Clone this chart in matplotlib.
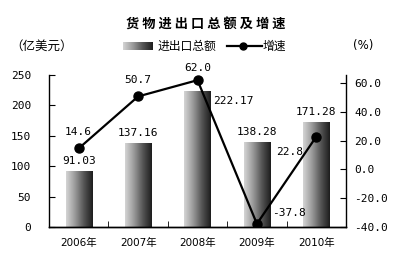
import numpy as np
import matplotlib
matplotlib.use("Agg")
import matplotlib.pyplot as plt
from matplotlib.colors import LinearSegmentedColormap

plt.rcParams['font.family'] = ['DejaVu Sans Mono', 'Noto Sans CJK SC']

years = ["2006年", "2007年", "2008年", "2009年", "2010年"]
totals = [91.03, 137.16, 222.17, 138.28, 171.28]
growth = [14.6, 50.7, 62.0, -37.8, 22.8]

W, H = 408, 265
fig = plt.figure(figsize=(W / 100, H / 100), dpi=100)
# axes box in pixels: left 49, right 346, top 75, bottom 227
ax = fig.add_axes([49 / W, 1 - 227 / H, (346 - 49) / W, (227 - 75) / H])
ax2 = ax.twinx()

x = np.arange(len(years))
bw = 0.44
cmap = LinearSegmentedColormap.from_list("g", ["#d4d4d4", "#9a9a9a", "#555555", "#1e1e1e"])
grad = np.linspace(0, 1, 64).reshape(1, -1)
for xi, v in zip(x, totals):
    ax.imshow(grad, cmap=cmap, aspect="auto", extent=(xi - bw / 2, xi + bw / 2, 0, v),
              zorder=2)

ax.set_xlim(-0.5, 4.5)
ax.set_ylim(0, 250)
ax.set_yticks(range(0, 251, 50))
ax.set_xticks(x)
ax.set_xticklabels(years, fontsize=7.5, family=['DejaVu Sans', 'Noto Sans CJK SC'])
ax.set_xticks(np.arange(0.5, 4.5, 1), minor=True)
ax.tick_params(axis="x", which="major", length=0, pad=8)
ax.tick_params(axis="x", which="minor", length=4, direction="in")
ax.tick_params(axis="y", direction="in", length=4, labelsize=8, pad=13)

ax2.plot(x, growth, color="black", lw=1.6, marker="o", markersize=6.5, zorder=5)
ax2.set_ylim(-40, 65.6)
ax2.set_yticks(range(-40, 61, 20))
ax2.set_yticklabels([f"{v:.1f}" for v in range(-40, 61, 20)])
ax2.tick_params(axis="y", direction="in", length=4, labelsize=8, pad=6)

for a in (ax, ax2):
    a.spines["top"].set_visible(False)
    a.spines["left"].set_linewidth(1.0)
    a.spines["right"].set_linewidth(1.0)
    a.spines["bottom"].set_linewidth(1.0)
ax2.spines["left"].set_visible(False)
ax.spines["right"].set_visible(False)

# bar value labels
fs = 8
bar_off = [(0, 4), (0, 4), (8, -10), (0, 4), (0, 4)]
for xi, v, (dx, dy) in zip(x, totals, bar_off):
    ha = "left" if dx > 0 else "center"
    ax.annotate(f"{v:.2f}", (xi + (bw / 2 if dx > 0 else 0), v), xytext=(dx - 6 if dx > 0 else 0, dy),
                textcoords="offset points", ha=ha, va="bottom", fontsize=fs, zorder=6)

# growth labels
g_off = [(0, 12), (0, 12), (0, 9), (23, 8), (-19, -11)]
for xi, v, (dx, dy) in zip(x, growth, g_off):
    ax2.annotate(f"{v:.1f}", (xi, v), xytext=(dx, dy), textcoords="offset points",
                 ha="center", va="center", fontsize=fs, zorder=6)

# title and header row
fig.text(206 / W, 1 - 25 / H, "货 物 进 出 口 总 额 及 增 速", ha="center", va="center",
         fontsize=9.5, fontweight="bold", family=['Noto Sans CJK SC'])
fig.text(42 / W, 1 - 46 / H, "（亿美元）", ha="center", va="center", fontsize=9,
         family=['Noto Sans CJK SC'])
fig.text(353 / W, 1 - 46 / H, "(%)", ha="left", va="center", fontsize=8.5,
         family=['DejaVu Sans'])

lax = fig.add_axes([123 / W, 1 - 50 / H, 30 / W, 8 / H])
lax.imshow(grad, cmap=cmap, aspect="auto", extent=(0, 1, 0, 1))
lax.axis("off")
fig.text(158 / W, 1 - 46 / H, "进出口总额", ha="left", va="center", fontsize=8.5,
         family=['Noto Sans CJK SC'])
fig.add_artist(plt.Line2D([227 / W, 262 / W], [1 - 46 / H, 1 - 46 / H], color="black", lw=1.6,
                          transform=fig.transFigure))
fig.add_artist(plt.Line2D([243 / W], [1 - 46 / H], marker="o", markersize=5, color="black",
                          transform=fig.transFigure))
fig.text(263 / W, 1 - 46 / H, "增速", ha="left", va="center", fontsize=8.5,
         family=['Noto Sans CJK SC'])

fig.savefig("out.png", dpi=100)
